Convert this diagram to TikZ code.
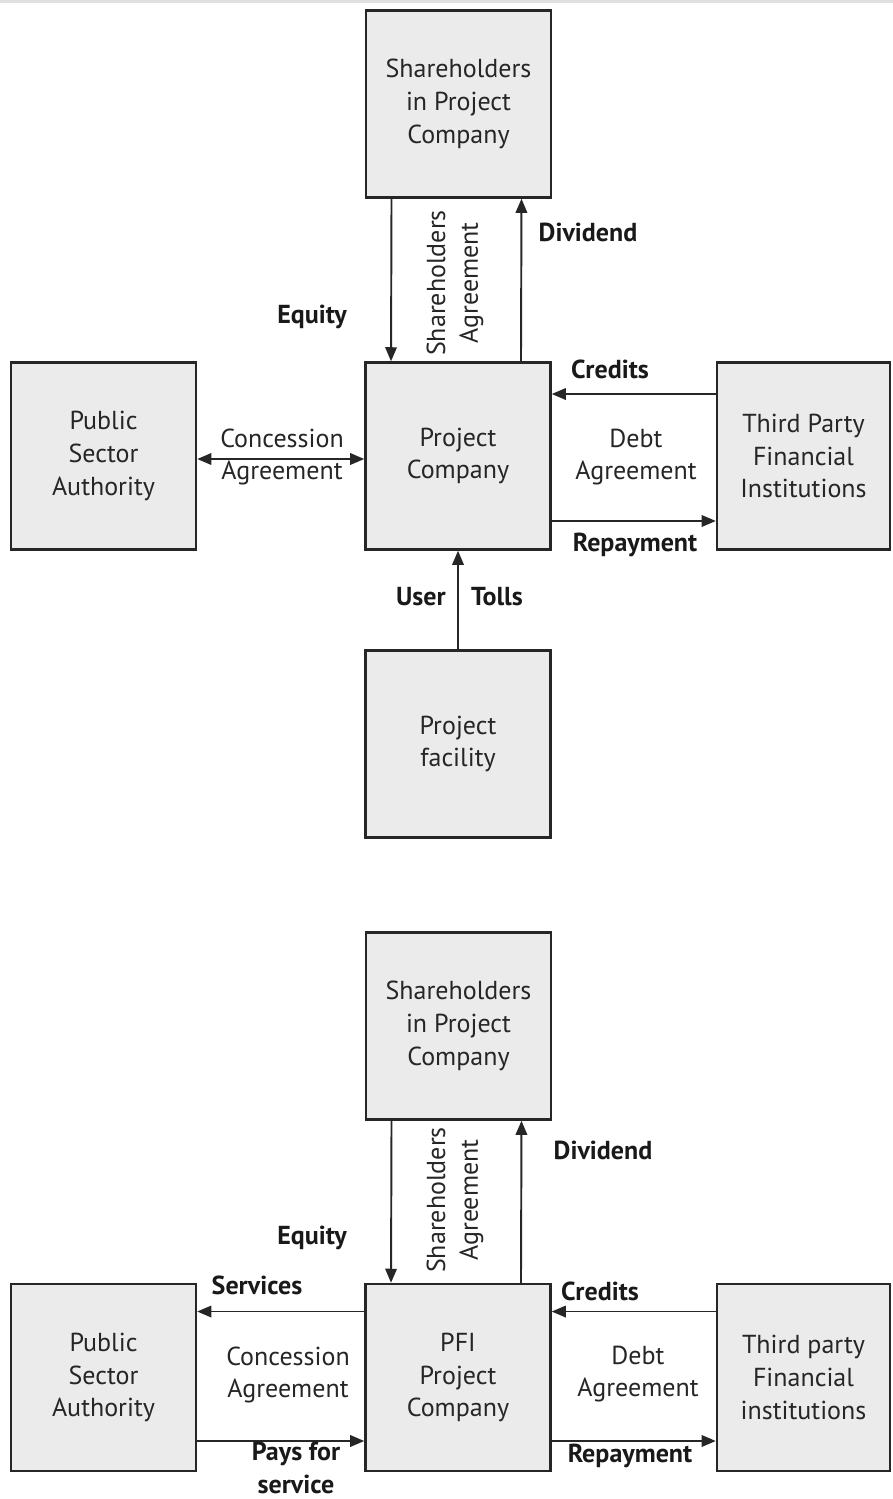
\documentclass[tikz,border=0pt]{standalone}
\usepackage{fontspec}
\setmainfont{PT Sans}
\usetikzlibrary{arrows.meta}
\tikzset{
    BX/.style ={rectangle,minimum width=3.7cm,minimum height=3.74cm,draw=black!85,line width=1.4pt,fill=black!8,align=center,inner sep=0pt,font=\fontsize{14.8}{18.7}\selectfont,text=black!85},
    TX/.style ={align=center,inner sep=0pt,font=\fontsize{14.8}{18.7}\selectfont,text=black!85},
    LB/.style ={align=center,inner sep=0pt,font=\fontsize{14.8}{18.7}\selectfont\bfseries,text=black!90},
    AR/.style ={line width=1.1pt,draw=black!85,-{Triangle[length=8pt,width=6.5pt]}},
    DA/.style ={line width=1.1pt,draw=black!85,{Triangle[length=8pt,width=6.5pt]}-{Triangle[length=8pt,width=6.5pt]}}
}
\begin{document}
\begin{tikzpicture}[x=0.02cm,y=-0.02cm]
        \useasboundingbox (0,0) rectangle (893,1499);
        \fill[black!12] (0,0) rectangle (893,3);
        % upper scheme
        \node[BX] (sh1) at (458.5,104) {Shareholders\\in Project\\Company};
        \node[BX] (pc1) at (458,456) {Project\\Company};
        \node[BX] (pa1) at (103.5,456) {Public\\Sector\\Authority};
        \node[BX,minimum width=3.46cm] (tp1) at (803.5,456) {Third Party\\Financial\\Institutions};
        \node[BX] (pf1) at (458,744) {Project\\facility};
        \draw[AR] ([xshift=-1.34cm]sh1.south) -- ([xshift=-1.34cm]pc1.north);
        \draw[AR] ([xshift=1.26cm]pc1.north) -- ([xshift=1.26cm]sh1.south);
        \draw[AR] ([yshift=1.24cm]tp1.west) -- ([yshift=1.24cm]pc1.east);
        \draw[AR] ([yshift=-1.3cm]pc1.east) -- ([yshift=-1.3cm]tp1.west);
        \draw[DA] ([yshift=-0.06cm]pa1.east) -- ([yshift=-0.06cm]pc1.west);
        \draw[AR] (pf1.north) -- (pc1.south);
        \node[LB] (eq1) at (312,317) {Equity};
        \node[LB] (dv1) at (588,232) {Dividend};
        \node[TX,rotate=90] (sa1) at (455,283) {Shareholders\\Agreement};
        \node[LB] (cr1) at (610,369) {Credits};
        \node[LB] (rp1) at (635,545) {Repayment};
        \node[TX] (da1) at (636,457) {Debt\\Agreement};
        \node[TX] (ca1) at (282,457) {Concession\\Agreement};
        \node[LB] (us1) at (421,597) {User};
        \node[LB] (to1) at (497,597) {Tolls};
        % lower scheme
        \node[BX] (sh2) at (458.5,1026) {Shareholders\\in Project\\Company};
        \node[BX] (pc2) at (458,1377.5) {PFI\\Project\\Company};
        \node[BX] (pa2) at (103.5,1377.5) {Public\\Sector\\Authority};
        \node[BX,minimum width=3.46cm] (tp2) at (803.5,1377.5) {Third party\\Financial\\institutions};
        \draw[AR] ([xshift=-1.34cm]sh2.south) -- ([xshift=-1.34cm]pc2.north);
        \draw[AR] ([xshift=1.26cm]pc2.north) -- ([xshift=1.26cm]sh2.south);
        \draw[AR] ([yshift=1.32cm]tp2.west) -- ([yshift=1.32cm]pc2.east);
        \draw[AR] ([yshift=-1.27cm]pc2.east) -- ([yshift=-1.27cm]tp2.west);
        \draw[AR] ([yshift=1.32cm]pc2.west) -- ([yshift=1.32cm]pa2.east);
        \draw[AR] ([yshift=-1.27cm]pa2.east) -- ([yshift=-1.27cm]pc2.west);
        \node[LB] (eq2) at (312,1238) {Equity};
        \node[LB] (dv2) at (603,1150) {Dividend};
        \node[TX,rotate=90] (sa2) at (455,1200) {Shareholders\\Agreement};
        \node[LB] (sv2) at (257,1285) {Services};
        \node[TX] (ca2) at (288,1375) {Concession\\Agreement};
        \node[LB] (py2) at (296,1468) {Pays for\\service};
        \node[LB] (cr2) at (600,1291) {Credits};
        \node[LB] (rp2) at (630,1456) {Repayment};
        \node[TX] (da2) at (638,1374) {Debt\\Agreement};
\end{tikzpicture}
\end{document}
